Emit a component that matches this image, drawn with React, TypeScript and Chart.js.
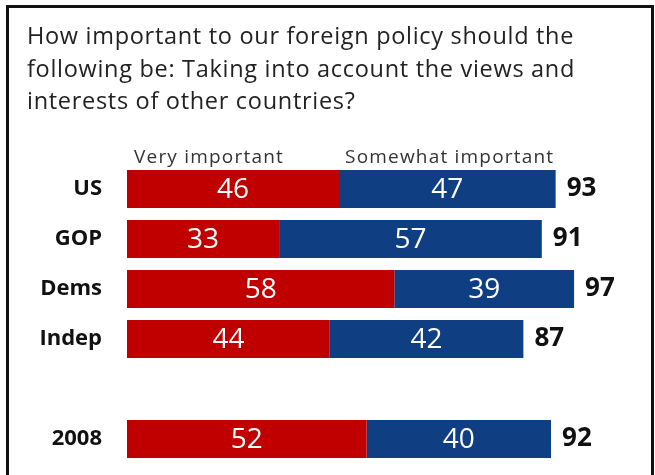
import React, { useEffect, useRef } from "react";
import { Chart, registerables } from "chart.js";

Chart.register(...registerables);

const categories = ["US", "GOP", "Dems", "Indep", "", "2008"];
const veryImportant = [46, 33, 58, 44, null, 52];
const somewhatImportant = [47, 57, 39, 42, null, 40];
const totals = [93, 91, 97, 87, null, 92];
const seriesNames = ["Very important", "Somewhat important"];
const titleLines = [
  "How important to our foreign policy should the",
  "following be: Taking into account the views and",
  "interests of other countries?",
];

const RED = "#C00000";
const BLUE = "#0F3E82";
const FONT = "'Open Sans', Lato, sans-serif";

const textPlugin = {
  id: "customText",
  afterDraw(chart: any) {
    const ctx = chart.ctx as CanvasRenderingContext2D;
    const xs = chart.scales.x;
    const ys = chart.scales.y;
    ctx.save();
    // frame
    ctx.strokeStyle = "#111";
    ctx.lineWidth = 3;
    ctx.strokeRect(7.5, 6.5, 645, 500);
    // title
    ctx.fillStyle = "#222";
    ctx.font = `23.5px ${FONT}`;
    (ctx as any).letterSpacing = "0.7px";
    ctx.textAlign = "left";
    ctx.textBaseline = "alphabetic";
    titleLines.forEach((l, i) => ctx.fillText(l, 27, 44 + i * 32.5));
    // legend labels
    ctx.font = `19px ${FONT}`;
    (ctx as any).letterSpacing = "1.2px";
    ctx.fillStyle = "#333";
    const legY = 163;
    ctx.fillText(seriesNames[0], xs.getPixelForValue(0) + 7, legY);
    ctx.fillText(seriesNames[1], xs.getPixelForValue(veryImportant[0] as number) + 6, legY);
    (ctx as any).letterSpacing = "0px";
    // categories, values
    categories.forEach((c, i) => {
      const y = ys.getPixelForValue(i);
      ctx.textBaseline = "middle";
      ctx.fillStyle = "#111";
      ctx.font = `bold 22px ${FONT}`;
      ctx.textAlign = "right";
      ctx.fillText(c, 102, y);
      const v = veryImportant[i];
      const s = somewhatImportant[i];
      const t = totals[i];
      if (v == null || s == null) return;
      ctx.font = `28px ${FONT}`;
      ctx.fillStyle = "#fff";
      ctx.textAlign = "center";
      ctx.fillText(String(v), (xs.getPixelForValue(0) + xs.getPixelForValue(v)) / 2, y + 1);
      ctx.fillText(String(s), (xs.getPixelForValue(v) + xs.getPixelForValue(v + s)) / 2, y + 1);
      if (t != null) {
        ctx.font = `bold 26px ${FONT}`;
        ctx.fillStyle = "#111";
        ctx.textAlign = "left";
        ctx.fillText(String(t), xs.getPixelForValue(v + s) + 11, y);
      }
    });
    ctx.restore();
  },
};

export default function App() {
  const ref = useRef<HTMLCanvasElement | null>(null);
  useEffect(() => {
    if (!ref.current) return;
    const chart = new Chart(ref.current, {
      type: "bar",
      data: {
        labels: categories,
        datasets: [
          { label: seriesNames[0], data: veryImportant as any, backgroundColor: RED },
          { label: seriesNames[1], data: somewhatImportant as any, backgroundColor: BLUE },
        ],
      },
      options: {
        indexAxis: "y",
        animation: false,
        responsive: false,
        maintainAspectRatio: false,
        layout: { padding: { left: 127, right: 21, top: 164, bottom: 11 } },
        datasets: { bar: { barPercentage: 0.76, categoryPercentage: 1 } },
        scales: {
          x: { stacked: true, min: 0, max: 110, display: false },
          y: { stacked: true, display: false },
        },
        plugins: { legend: { display: false }, tooltip: { enabled: false }, title: { display: false } },
      },
      plugins: [textPlugin],
    });
    return () => chart.destroy();
  }, []);
  return (
    <div style={{ position: "absolute", left: 0, top: 0, width: 655, height: 475, background: "#fff" }}>
      <canvas ref={ref} width={655} height={475} style={{ display: "block" }} />
    </div>
  );
}
